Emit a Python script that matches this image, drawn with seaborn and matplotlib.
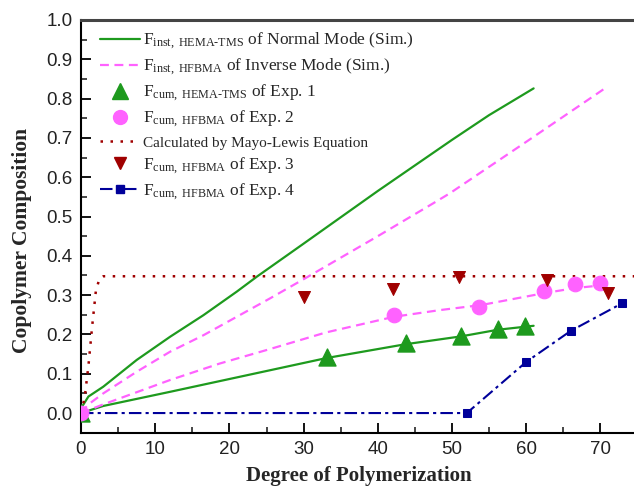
import numpy as np
import pandas as pd
import matplotlib
matplotlib.use("Agg")
import matplotlib.pyplot as plt
from matplotlib.lines import Line2D
import seaborn as sns

# ---------------- data ----------------
# F_inst, HEMA-TMS of Normal Mode (Sim.)
inst_hema_x = [0, 1, 3, 7.5, 12, 16.5, 21, 23.7, 30, 40, 47, 50, 55, 61]
inst_hema_y = [0.012, 0.042, 0.067, 0.135, 0.194, 0.249, 0.309, 0.347, 0.431, 0.565, 0.656, 0.695, 0.758, 0.826]

# F_inst, HFBMA of Inverse Mode (Sim.)
inst_hfbma_x = [0, 1, 3, 7.5, 12, 16.5, 21, 25.5, 30.6, 40, 47.5, 49.7, 60, 70.6]
inst_hfbma_y = [0.0, 0.022, 0.05, 0.105, 0.156, 0.198, 0.245, 0.292, 0.347, 0.45, 0.534, 0.559, 0.69, 0.826]

# cumulative (sim.) curves through the experimental points
cum_hema_x = [0, 3, 12, 25.5, 33.1, 43.7, 51.2, 56.2, 61]
cum_hema_y = [0.0, 0.018, 0.054, 0.109, 0.14, 0.175, 0.195, 0.212, 0.222]
cum_hfbma_x = [0, 3, 12, 18.7, 25.5, 33, 42.2, 48.4, 54, 62.4, 66.6, 70.2]
cum_hfbma_y = [0.0, 0.022, 0.084, 0.126, 0.163, 0.205, 0.245, 0.262, 0.275, 0.305, 0.318, 0.325]

# Experimental points
exp1_x = [0, 33.1, 43.8, 51.2, 56.2, 59.8]
exp1_y = [0.0, 0.143, 0.177, 0.197, 0.215, 0.221]
exp2_x = [0, 42.2, 53.7, 62.4, 66.6, 69.9]
exp2_y = [0.0, 0.249, 0.269, 0.311, 0.328, 0.33]
exp3_x = [30.0, 42.0, 51.0, 62.8, 71.0]
exp3_y = [0.296, 0.315, 0.345, 0.338, 0.306]
exp4_x = [0, 52.0, 60.0, 66.0, 72.9]
exp4_y = [0.0, 0.0, 0.13, 0.209, 0.279]

# Mayo-Lewis equation
mayo_x = [0, 0.5, 1.0, 1.5, 2.0, 2.5, 3.0, 75]
mayo_y = [0.0, 0.04, 0.12, 0.22, 0.31, 0.343, 0.348, 0.348]

x_ticks = [0, 10, 20, 30, 40, 50, 60, 70]
y_ticks = [0.0, 0.1, 0.2, 0.3, 0.4, 0.5, 0.6, 0.7, 0.8, 0.9, 1.0]

labels = [
    r"$\mathrm{F}_{\mathrm{inst,\ HEMA\text{-}TMS}}$ of Normal Mode (Sim.)",
    r"$\mathrm{F}_{\mathrm{inst,\ HFBMA}}$ of Inverse Mode (Sim.)",
    r"$\mathrm{F}_{\mathrm{cum,\ HEMA\text{-}TMS}}$ of Exp. 1",
    r"$\mathrm{F}_{\mathrm{cum,\ HFBMA}}$ of Exp. 2",
    "Calculated by Mayo-Lewis Equation",
    r"$\mathrm{F}_{\mathrm{cum,\ HFBMA}}$ of Exp. 3",
    r"$\mathrm{F}_{\mathrm{cum,\ HFBMA}}$ of Exp. 4",
]

# ---------------- style ----------------
sns.set_style("ticks")
plt.rcParams["font.family"] = ["Liberation Sans", "DejaVu Sans"]
plt.rcParams["mathtext.fontset"] = "custom"
plt.rcParams["mathtext.rm"] = "Liberation Serif"
plt.rcParams["mathtext.it"] = "Liberation Serif:italic"
plt.rcParams["mathtext.bf"] = "Liberation Serif:bold"

GREEN = "#1e9a1e"
PINK = "#ff62ff"
DRED = "#a00000"
BLUE = "#00009a"

fig = plt.figure(figsize=(6.34, 4.93), dpi=100)
ax = fig.add_axes([81 / 634, 1 - 432.7 / 493, 556.5 / 634, (432.7 - 20) / 493])

sns.lineplot(x=inst_hema_x, y=inst_hema_y, ax=ax, color=GREEN, lw=1.6, sort=False)
sns.lineplot(x=inst_hfbma_x, y=inst_hfbma_y, ax=ax, color=PINK, lw=1.6, sort=False,
             linestyle=(0, (4, 2.5)))
sns.lineplot(x=cum_hema_x, y=cum_hema_y, ax=ax, color=GREEN, lw=1.6, sort=False)
sns.lineplot(x=cum_hfbma_x, y=cum_hfbma_y, ax=ax, color=PINK, lw=1.6, sort=False,
             linestyle=(0, (4, 2.5)))
sns.lineplot(x=mayo_x, y=mayo_y, ax=ax, color=DRED, lw=1.8, sort=False,
             linestyle=(0, (1, 3)))
sns.lineplot(x=exp4_x, y=exp4_y, ax=ax, color=BLUE, lw=1.5, sort=False,
             linestyle=(0, (6, 2, 1.5, 2)), marker="s", markersize=6,
             markeredgecolor=BLUE)

sns.scatterplot(x=exp1_x, y=exp1_y, ax=ax, marker="^", s=150, color=GREEN,
                edgecolor=GREEN, zorder=4)
sns.scatterplot(x=exp2_x, y=exp2_y, ax=ax, marker="o", s=110, color=PINK,
                edgecolor=PINK, zorder=4)
sns.scatterplot(x=exp3_x, y=exp3_y, ax=ax, marker="v", s=75, color=DRED,
                edgecolor=DRED, zorder=4)

ax.set_xlim(0, 75)
ax.set_ylim(-0.05, 1.0)
ax.set_xticks(x_ticks)
ax.set_xticks(np.arange(5, 75, 10), minor=True)
ax.set_yticks(y_ticks)
ax.set_yticks(np.arange(0.05, 1.0, 0.1), minor=True)
ax.set_xticklabels([str(v) for v in x_ticks])
ax.set_yticklabels([f"{v:.1f}" for v in y_ticks])
ax.tick_params(which="major", direction="in", length=7, width=1.3,
               labelsize=13.5, colors="black", labelcolor="#222222", pad=6)
ax.tick_params(which="minor", direction="in", length=4, width=1.2)
ax.tick_params(axis="y", which="both", right=False)
ax.tick_params(axis="x", which="both", top=False)

for s in ["left", "bottom"]:
    ax.spines[s].set_linewidth(1.5)
    ax.spines[s].set_color("black")
ax.spines["top"].set_linewidth(2.2)
ax.spines["top"].set_color("#444444")
ax.spines["right"].set_visible(False)

ax.set_xlabel("Degree of Polymerization", fontfamily="Liberation Serif",
              fontweight="bold", fontsize=15)
ax.xaxis.set_label_coords((359 - 81) / 556.5, -(476 - 432.7) / 412.7)
ax.xaxis.label.set_va("center")
ax.set_ylabel("Copolymer Composition", fontfamily="Liberation Serif",
              fontweight="bold", fontsize=15.5)
ax.yaxis.set_label_coords((22 - 81) / 556.5, (432.7 - 240) / 412.7)
ax.yaxis.label.set_va("center")

handles = [
    Line2D([], [], color=GREEN, lw=1.6),
    Line2D([], [], color=PINK, lw=1.6, linestyle=(0, (4, 2.5))),
    Line2D([], [], color=GREEN, marker="^", markersize=12, linestyle="none"),
    Line2D([], [], color=PINK, marker="o", markersize=10, linestyle="none"),
    Line2D([], [], color=DRED, lw=1.8, linestyle=(0, (1, 3))),
    Line2D([], [], color=DRED, marker="v", markersize=8.5, linestyle="none"),
    Line2D([], [], color=BLUE, lw=1.5, linestyle=(0, (6, 2, 1.5, 2)),
           marker="s", markersize=6),
]
leg = ax.legend(handles, labels, loc="upper left", bbox_to_anchor=(0.015, 1.0),
                frameon=False, fontsize=12.5, handlelength=2.3,
                handletextpad=0.2, labelspacing=0.3, borderaxespad=0.2)
for t in leg.get_texts():
    t.set_fontfamily("Liberation Serif")
leg.get_texts()[4].set_fontsize(11)

fig.savefig("out.png", dpi=100)
